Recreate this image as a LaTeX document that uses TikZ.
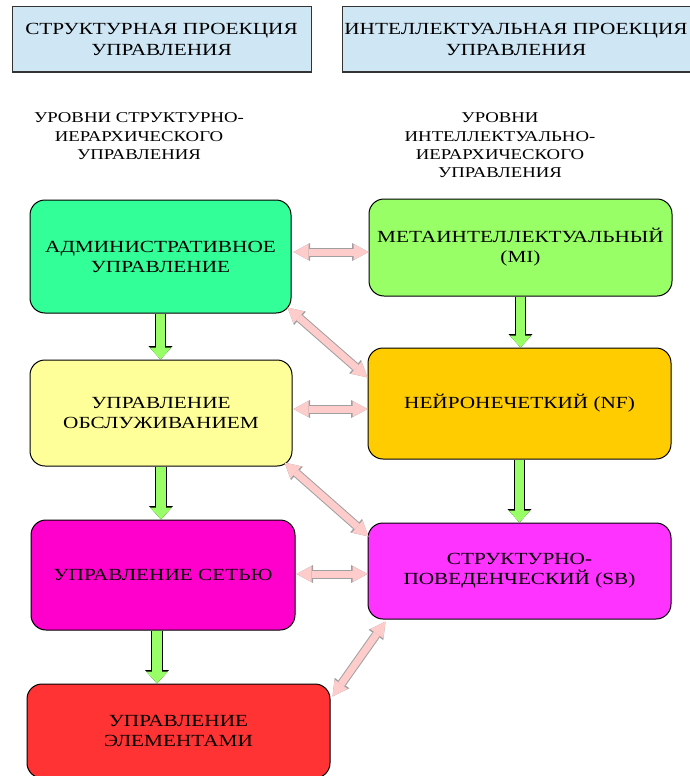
\documentclass[tikz,border=0pt]{standalone}
\usepackage{fontspec}
\setmainfont{Liberation Serif}[FakeStretch=1.25]
\usepackage{tikz}
\usetikzlibrary{arrows.meta,positioning,calc}
\definecolor{hdrblue}{HTML}{CFE7F5}
\definecolor{admgreen}{HTML}{33FF99}
\definecolor{migreen}{HTML}{99FF66}
\definecolor{svcyellow}{HTML}{FFFF99}
\definecolor{nfgold}{HTML}{FFCC00}
\definecolor{netmag}{HTML}{FF00CC}
\definecolor{sbpink}{HTML}{FF33FF}
\definecolor{elemred}{HTML}{FF3333}
\definecolor{linkpink}{HTML}{FFCCCC}
\definecolor{linkgray}{HTML}{A0A0A0}

\begin{document}
\begin{tikzpicture}[
  x=1pt, y=-1pt,
  hdr/.style={draw=black!80,line width=1pt,fill=hdrblue,inner sep=0pt,align=center,
              font=\fontsize{17}{21.7}\selectfont},
  lvl/.style={font=\fontsize{15}{18.4}\selectfont,align=center},
  bnode/.style={draw,line width=1pt,rounded corners=15pt,align=center,inner sep=2pt,
                font=\fontsize{17}{20}\selectfont},
  down/.style={line width=9.5pt,draw=migreen,
               -{Triangle[length=12pt,width=21.5pt,line width=0pt]},
               preaction={draw=black,line width=11.5pt,
                 -{Triangle[length=13.5pt,width=24pt,line width=0pt]}}},
  link/.style={line width=7pt,draw=linkpink,
               {Triangle[length=15pt,width=16pt,line width=0pt]}-{Triangle[length=15pt,width=16pt,line width=0pt]},
               preaction={draw=linkgray,line width=9pt,
                 {Triangle[length=16.5pt,width=18pt,line width=0pt]}-{Triangle[length=16.5pt,width=18pt,line width=0pt]}}},
]
\useasboundingbox (0,0) rectangle (689,776);

% projections
\node[hdr,minimum width=299pt,minimum height=65pt] (hl) at (161.5,39.5) {СТРУКТУРНАЯ ПРОЕКЦИЯ\\УПРАВЛЕНИЯ};
\node[hdr,minimum width=348pt,minimum height=65pt] (hr) at (516,39.5) {ИНТЕЛЛЕКТУАЛЬНАЯ ПРОЕКЦИЯ\\УПРАВЛЕНИЯ};

\node[lvl] (sl) at (139,136.5) {УРОВНИ СТРУКТУРНО-\\ИЕРАРХИЧЕСКОГО\\УПРАВЛЕНИЯ};
\node[lvl] (sr) at (500,145.5) {УРОВНИ\\ИНТЕЛЛЕКТУАЛЬНО-\\ИЕРАРХИЧЕСКОГО\\УПРАВЛЕНИЯ};

% structural levels
\node[bnode,fill=admgreen,minimum width=261pt,minimum height=113pt] (adm) at (160.5,256.5) {АДМИНИСТРАТИВНОЕ\\УПРАВЛЕНИЕ};
\node[bnode,fill=svcyellow,minimum width=262pt,minimum height=106pt] (svc) at (161,413) {УПРАВЛЕНИЕ\\ОБСЛУЖИВАНИЕМ};
\node[bnode,fill=netmag,minimum width=264pt,minimum height=110pt] (net) at (163,575) {УПРАВЛЕНИЕ СЕТЬЮ};
\node[bnode,fill=elemred,minimum width=303pt,minimum height=94pt] (elem) at (178.5,731) {УПРАВЛЕНИЕ\\ЭЛЕМЕНТАМИ};

% intellectual levels
\node[bnode,fill=migreen,minimum width=303pt,minimum height=97pt] (mi) at (520.5,247.5) {МЕТАИНТЕЛЛЕКТУАЛЬНЫЙ\\(MI)};
\node[bnode,fill=nfgold,minimum width=303pt,minimum height=111pt] (nf) at (519.5,403.5) {НЕЙРОНЕЧЕТКИЙ (NF)};
\node[bnode,fill=sbpink,minimum width=303pt,minimum height=96pt] (sb) at (519.5,571) {СТРУКТУРНО-\\ПОВЕДЕНЧЕСКИЙ (SB)};

% hierarchy
\draw[down] (adm.south) -- (adm.south |- svc.north);
\draw[down] (svc.south) -- (svc.south |- net.north);
\draw[down] ([xshift=-6pt]net.south) -- ([xshift=-6pt]net.south |- elem.north);
\draw[down] (mi.south) -- (mi.south |- nf.north);
\draw[down] (nf.south) -- (nf.south |- sb.north);

% links between projections
\draw[link] ([shift={(2pt,4.5pt)}]adm.east) -- ([yshift=-4.5pt]mi.west);
\draw[link] ([shift={(-4pt,6pt)}]adm.south east) -- ([yshift=-30pt]nf.north west);
\draw[link] ([shift={(1pt,4pt)}]svc.east) -- ([yshift=-5.5pt]nf.west);
\draw[link] ([shift={(-8pt,4pt)}]svc.south east) -- ([shift={(1pt,-14pt)}]sb.north west);
\draw[link] ([shift={(1pt,1pt)}]net.east) -- ([yshift=-3pt]sb.west);
\draw[link] ([shift={(18pt,-2pt)}]sb.south west) -- ([shift={(2pt,-13pt)}]elem.north east);
\end{tikzpicture}
\end{document}
